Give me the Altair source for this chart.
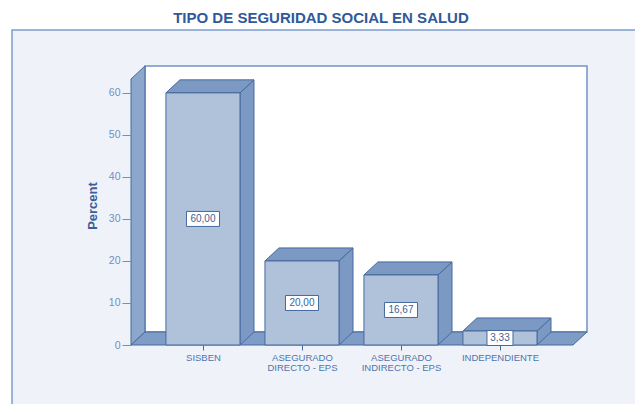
import json
import altair as alt
import pandas as pd

# ---------------- data ----------------
categories = ["SISBEN", "ASEGURADO\nDIRECTO - EPS", "ASEGURADO\nINDIRECTO - EPS", "INDEPENDIENTE"]
percent = [60.00, 20.00, 16.67, 3.33]
value_labels = ["60,00", "20,00", "16,67", "3,33"]
y_ticks = [0, 10, 20, 30, 40, 50, 60]

# ---------------- geometry (style constants, data units) ----------------
X_MIN, X_MAX = -0.727, 3.879      # x scale domain (category index units)
Y_MAX = 66.4                      # y scale domain top
DX, DY = 0.1414, 3.1              # 3D depth offset
HALF = 0.374                      # half width of a bar
WALL_TOP = 63.3                   # front top of left wall
PX_X = 99.0                       # pixels per x unit
PX_Y = 4.2                        # pixels per y unit

PLOT_W, PLOT_H = 456, 279

FRONT = "#b0c2da"
SIDE = "#7c99c3"
EDGE = "#45699f"
FLOOR = "#7f9cc6"
LWALL = "#8ca7cc"
FONT = "Liberation Sans"

xs = alt.Scale(domain=[X_MIN, X_MAX], nice=False, zero=False)
ys = alt.Scale(domain=[0, Y_MAX], nice=False, zero=False)

cat_lines = json.dumps([c.split("\n") for c in categories])
xaxis = alt.Axis(values=list(range(len(categories))), labelExpr=f"{cat_lines}[datum.value]",
                 domain=False, grid=False, ticks=True, tickSize=5, tickColor=EDGE,
                 labelFont=FONT, labelFontSize=9.5, labelColor="#4f74ae", labelPadding=2,
                 labelLineHeight=10, labelAngle=0, title=None, zindex=1)
yaxis = alt.Axis(values=y_ticks, domain=False, grid=False, tickSize=9, tickColor="#6f8fc2",
                 labelFont=FONT, labelFontSize=10.5, labelColor="#6f8fc2", labelPadding=2,
                 title="Percent", titleFont=FONT, titleFontSize=13, titleFontWeight="bold",
                 titleColor="#3b5e99", titlePadding=9, zindex=1)


def X(f):
    return alt.X(f"{f}:Q", scale=xs, axis=xaxis)


def Y(f):
    return alt.Y(f"{f}:Q", scale=ys, axis=yaxis)


# ---------------- tables ----------------
bars = pd.DataFrame({"cat": categories, "v": percent, "lab": value_labels})
bars["i"] = range(len(bars))
bars["xl"] = bars["i"] - HALF
bars["xr"] = bars["i"] + HALF
bars["zero"] = 0.0
bars["mid"] = bars["v"] / 2
bars["bw"] = (bars["lab"].str.len() * 7 - 2) / PX_X
bars["bxl"] = bars["i"] - bars["bw"] / 2
bars["bxr"] = bars["i"] + bars["bw"] / 2
bars["byb"] = bars["mid"] - 7.5 / PX_Y
bars["byt"] = bars["mid"] + 7.5 / PX_Y

side_rows, top_rows = [], []
for _, r in bars.iterrows():
    side_rows.append({"id": r["i"], "x": r["xr"], "y": 0.0, "y2": r["v"]})
    side_rows.append({"id": r["i"], "x": r["xr"] + DX, "y": DY, "y2": r["v"] + DY})
    top_rows.append({"id": r["i"], "y": r["v"], "x": r["xl"], "x2": r["xr"]})
    top_rows.append({"id": r["i"], "y": r["v"] + DY, "x": r["xl"] + DX, "x2": r["xr"] + DX})
sides = pd.DataFrame(side_rows)
tops = pd.DataFrame(top_rows)

back = pd.DataFrame({"x": [X_MIN + DX], "x2": [X_MAX], "y": [DY], "y2": [Y_MAX]})
lwall = pd.DataFrame({"x": [X_MIN, X_MIN + DX], "y": [0.0, DY], "y2": [WALL_TOP, Y_MAX]})
floor = pd.DataFrame({"y": [0.0, DY], "x": [X_MIN, X_MIN + DX], "x2": [X_MAX - DX, X_MAX]})
dummy = pd.DataFrame({"a": [0]})

# ---------------- layers ----------------
panel = alt.Chart(dummy).mark_rect(fill="#eff3f9", stroke="#7d9dcf", strokeWidth=1.5).encode(
    x=alt.value(-119), x2=alt.value(560), y=alt.value(-36), y2=alt.value(400))

back_wall = alt.Chart(back).mark_rect(fill="white", stroke="#7093c6", strokeWidth=1.5).encode(
    x=X("x"), x2="x2:Q", y=Y("y"), y2="y2:Q")

left_wall = alt.Chart(lwall).mark_area(fill=LWALL, stroke=EDGE, strokeWidth=1, orient="vertical",
                                       opacity=1).encode(
    x=X("x"), y=Y("y"), y2="y2:Q")

floor_l = alt.Chart(floor).mark_area(fill=FLOOR, stroke=EDGE, strokeWidth=1, orient="horizontal",
                                     opacity=1).encode(
    y=Y("y"), x=X("x"), x2="x2:Q")

side_l = alt.Chart(sides).mark_area(fill=SIDE, stroke=EDGE, strokeWidth=1, orient="vertical",
                                    opacity=1).encode(
    x=X("x"), y=Y("y"), y2="y2:Q", detail="id:N")

top_l = alt.Chart(tops).mark_area(fill=SIDE, stroke=EDGE, strokeWidth=1, orient="horizontal",
                                  opacity=1).encode(
    y=Y("y"), x=X("x"), x2="x2:Q", detail="id:N")

front_l = alt.Chart(bars).mark_rect(fill=FRONT, stroke=EDGE, strokeWidth=1).encode(
    x=X("xl"), x2="xr:Q", y=Y("zero"), y2="v:Q")

box_l = alt.Chart(bars).mark_rect(fill="white", stroke=EDGE, strokeWidth=1).encode(
    x=X("bxl"), x2="bxr:Q", y=Y("byb"), y2="byt:Q")

text_l = alt.Chart(bars).mark_text(font=FONT, fontSize=10, color="#3d5f99", baseline="middle",
                                   align="center").encode(
    x=X("i"), y=Y("mid"), text="lab:N")

chart = alt.layer(panel, back_wall, left_wall, floor_l, side_l, top_l, front_l, box_l, text_l).properties(
    width=PLOT_W, height=PLOT_H,
    title=alt.TitleParams("TIPO DE SEGURIDAD SOCIAL EN SALUD", anchor="middle", frame="group",
                          dx=-38, offset=3, font=FONT, fontSize=15, fontWeight="bold",
                          color="#2f5a9a"),
    autosize=alt.AutoSizeParams(type="none"),
    padding={"left": 123, "top": 58, "right": 48, "bottom": 59},
).configure_view(stroke=None).configure(background="white")

chart.save("out.html", embed_options={"renderer": "svg", "actions": False})
